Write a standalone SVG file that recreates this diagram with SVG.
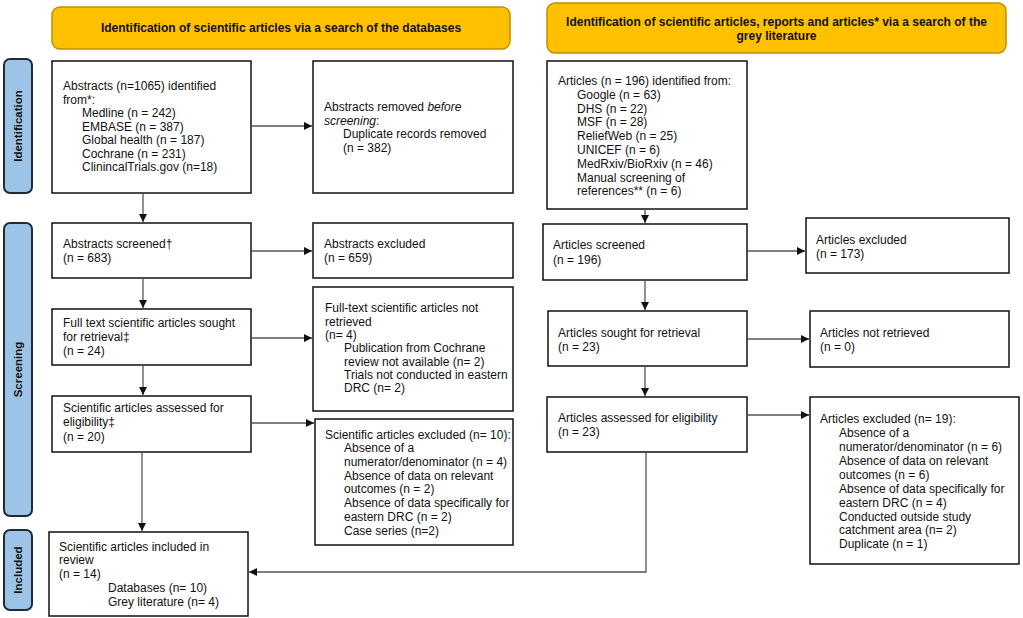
<svg xmlns="http://www.w3.org/2000/svg" width="1023" height="618" viewBox="0 0 1023 618">
<style>
text{font-family:"Liberation Sans",Arial,sans-serif;font-size:12px;fill:#111}
.hdr rect{fill:#FFC000;stroke:#C09000;stroke-width:1.5}
.hdr text{font-weight:bold;font-size:12px;text-anchor:middle}
.side rect{fill:#9DC3E6;stroke:#1F2A3A;stroke-width:2}
.side text{font-weight:bold;font-size:11.5px;text-anchor:middle}
.box rect{fill:#fff;stroke:#111;stroke-width:1.5}
#connectors path{fill:none;stroke:#555;stroke-width:1.3}
</style>
<defs>
<marker id="ah" markerUnits="userSpaceOnUse" markerWidth="9" markerHeight="8" refX="8" refY="4" orient="auto">
<path d="M0,0 L8,4 L0,8 Z" fill="#111"/>
</marker>
</defs>
<rect width="1023" height="618" fill="#fff"/>

<g id="hdr-left" class="hdr"><rect x="52" y="7" width="458" height="42" rx="8"/>
<text x="281" y="32">Identification of scientific articles via a search of the databases</text></g>
<g id="hdr-right" class="hdr"><rect x="547" y="3" width="459" height="50" rx="8"/>
<text x="776.5" y="26">Identification of scientific articles, reports and articles* via a search of the</text>
<text x="776.5" y="40">grey literature</text></g>

<g id="side-identification" class="side"><rect x="4" y="59" width="28" height="134" rx="6"/>
<text transform="translate(22,126) rotate(-90)">Identification</text></g>
<g id="side-screening" class="side"><rect x="4" y="223" width="28" height="293" rx="6"/>
<text transform="translate(22,369.5) rotate(-90)">Screening</text></g>
<g id="side-included" class="side"><rect x="4" y="530" width="28" height="80" rx="6"/>
<text transform="translate(22,570) rotate(-90)">Included</text></g>

<g id="n-identified" class="box"><rect x="52" y="61" width="199" height="132"/>
<text x="63" y="90">Abstracts (n=1065) identified</text>
<text x="63" y="103.5">from*:</text>
<text x="82" y="117">Medline (n = 242)</text>
<text x="82" y="130.5">EMBASE (n = 387)</text>
<text x="82" y="144">Global health (n = 187)</text>
<text x="82" y="157.5">Cochrane (n = 231)</text>
<text x="82" y="171">ClinincalTrials.gov (n=18)</text></g>

<g id="n-removed" class="box"><rect x="313" y="61" width="200" height="132"/>
<text x="324" y="111">Abstracts removed <tspan font-style="italic">before</tspan></text>
<text x="324" y="124.5"><tspan font-style="italic">screening</tspan>:</text>
<text x="343" y="138">Duplicate records removed</text>
<text x="343" y="151.5">(n = 382)</text></g>

<g id="n-screened" class="box"><rect x="52" y="223" width="199" height="55"/>
<text x="63" y="248">Abstracts screened†</text>
<text x="63" y="262">(n = 683)</text></g>

<g id="n-abs-excluded" class="box"><rect x="313" y="223" width="200" height="55"/>
<text x="324" y="248">Abstracts excluded</text>
<text x="324" y="262">(n = 659)</text></g>

<g id="n-sought" class="box"><rect x="52" y="309" width="199" height="56"/>
<text x="63" y="327">Full text scientific articles sought</text>
<text x="63" y="341">for retrieval‡</text>
<text x="63" y="355">(n = 24)</text></g>

<g id="n-not-retrieved" class="box"><rect x="313" y="287" width="200" height="124"/>
<text x="325" y="312">Full-text scientific articles not</text>
<text x="325" y="326">retrieved</text>
<text x="325" y="339">(n= 4)</text>
<text x="344" y="352">Publication from Cochrane</text>
<text x="344" y="366">review not available (n= 2)</text>
<text x="344" y="379">Trials not conducted in eastern</text>
<text x="344" y="392">DRC (n= 2)</text></g>

<g id="n-assessed" class="box"><rect x="52" y="396" width="199" height="56"/>
<text x="63" y="412">Scientific articles assessed for</text>
<text x="63" y="426">eligibility‡</text>
<text x="63" y="441">(n = 20)</text></g>

<g id="n-sci-excluded" class="box"><rect x="315" y="419" width="198" height="126"/>
<text x="325" y="439">Scientific articles excluded (n= 10):</text>
<text x="344" y="452">Absence of a</text>
<text x="344" y="466">numerator/denominator (n = 4)</text>
<text x="344" y="480">Absence of data on relevant</text>
<text x="344" y="493">outcomes (n = 2)</text>
<text x="344" y="507">Absence of data specifically for</text>
<text x="344" y="521">eastern DRC (n = 2)</text>
<text x="344" y="535">Case series (n=2)</text></g>

<g id="n-included" class="box"><rect x="49" y="532" width="199" height="84"/>
<text x="59" y="551">Scientific articles included in</text>
<text x="59" y="564">review</text>
<text x="59" y="578">(n = 14)</text>
<text x="108" y="592">Databases (n= 10)</text>
<text x="108" y="606">Grey literature (n= 4)</text></g>

<g id="g-identified" class="box"><rect x="547" y="61" width="200" height="148"/>
<text x="558" y="85">Articles (n = 196) identified from:</text>
<text x="577" y="98.8">Google (n = 63)</text>
<text x="577" y="112.6">DHS (n = 22)</text>
<text x="577" y="126.4">MSF (n = 28)</text>
<text x="577" y="140.2">ReliefWeb (n = 25)</text>
<text x="577" y="154">UNICEF (n = 6)</text>
<text x="577" y="167.8">MedRxiv/BioRxiv (n = 46)</text>
<text x="577" y="181.6">Manual screening of</text>
<text x="577" y="195.4">references** (n = 6)</text></g>

<g id="g-screened" class="box"><rect x="543" y="224" width="204" height="56"/>
<text x="553" y="249">Articles screened</text>
<text x="553" y="264">(n = 196)</text></g>

<g id="g-excluded" class="box"><rect x="806" y="218" width="203" height="55"/>
<text x="816" y="244">Articles excluded</text>
<text x="816" y="258">(n = 173)</text></g>

<g id="g-sought" class="box"><rect x="548" y="311" width="199" height="55"/>
<text x="558" y="337">Articles sought for retrieval</text>
<text x="558" y="351">(n = 23)</text></g>

<g id="g-not-retrieved" class="box"><rect x="810" y="311" width="199" height="56"/>
<text x="820" y="337">Articles not retrieved</text>
<text x="820" y="351">(n = 0)</text></g>

<g id="g-assessed" class="box"><rect x="547" y="397" width="200" height="55"/>
<text x="558" y="422">Articles assessed for eligibility</text>
<text x="558" y="436">(n = 23)</text></g>

<g id="g-art-excluded" class="box"><rect x="810" y="397" width="209" height="167"/>
<text x="820" y="423">Articles excluded (n= 19):</text>
<text x="839" y="437">Absence of a</text>
<text x="839" y="451">numerator/denominator (n = 6)</text>
<text x="839" y="465">Absence of data on relevant</text>
<text x="839" y="479">outcomes (n = 6)</text>
<text x="839" y="493">Absence of data specifically for</text>
<text x="839" y="507">eastern DRC (n = 4)</text>
<text x="839" y="521">Conducted outside study</text>
<text x="839" y="534">catchment area (n= 2)</text>
<text x="839" y="548">Duplicate (n = 1)</text></g>

<g id="connectors">
<path d="M252,126 H312" marker-end="url(#ah)"/>
<path d="M143,194 V222" marker-end="url(#ah)"/>
<path d="M252,251 H312" marker-end="url(#ah)"/>
<path d="M143,279 V308" marker-end="url(#ah)"/>
<path d="M252,338 H312" marker-end="url(#ah)"/>
<path d="M143,366 V395" marker-end="url(#ah)"/>
<path d="M252,423 H314" marker-end="url(#ah)"/>
<path d="M142,453 V531" marker-end="url(#ah)"/>
<path d="M645,210 V223" marker-end="url(#ah)"/>
<path d="M748,251 H805" marker-end="url(#ah)"/>
<path d="M645,281 V310" marker-end="url(#ah)"/>
<path d="M748,339 H809" marker-end="url(#ah)"/>
<path d="M645,367 V396" marker-end="url(#ah)"/>
<path d="M748,415 H809" marker-end="url(#ah)"/>
<path d="M646,453 V572 H249" marker-end="url(#ah)"/>
</g>
</svg>
